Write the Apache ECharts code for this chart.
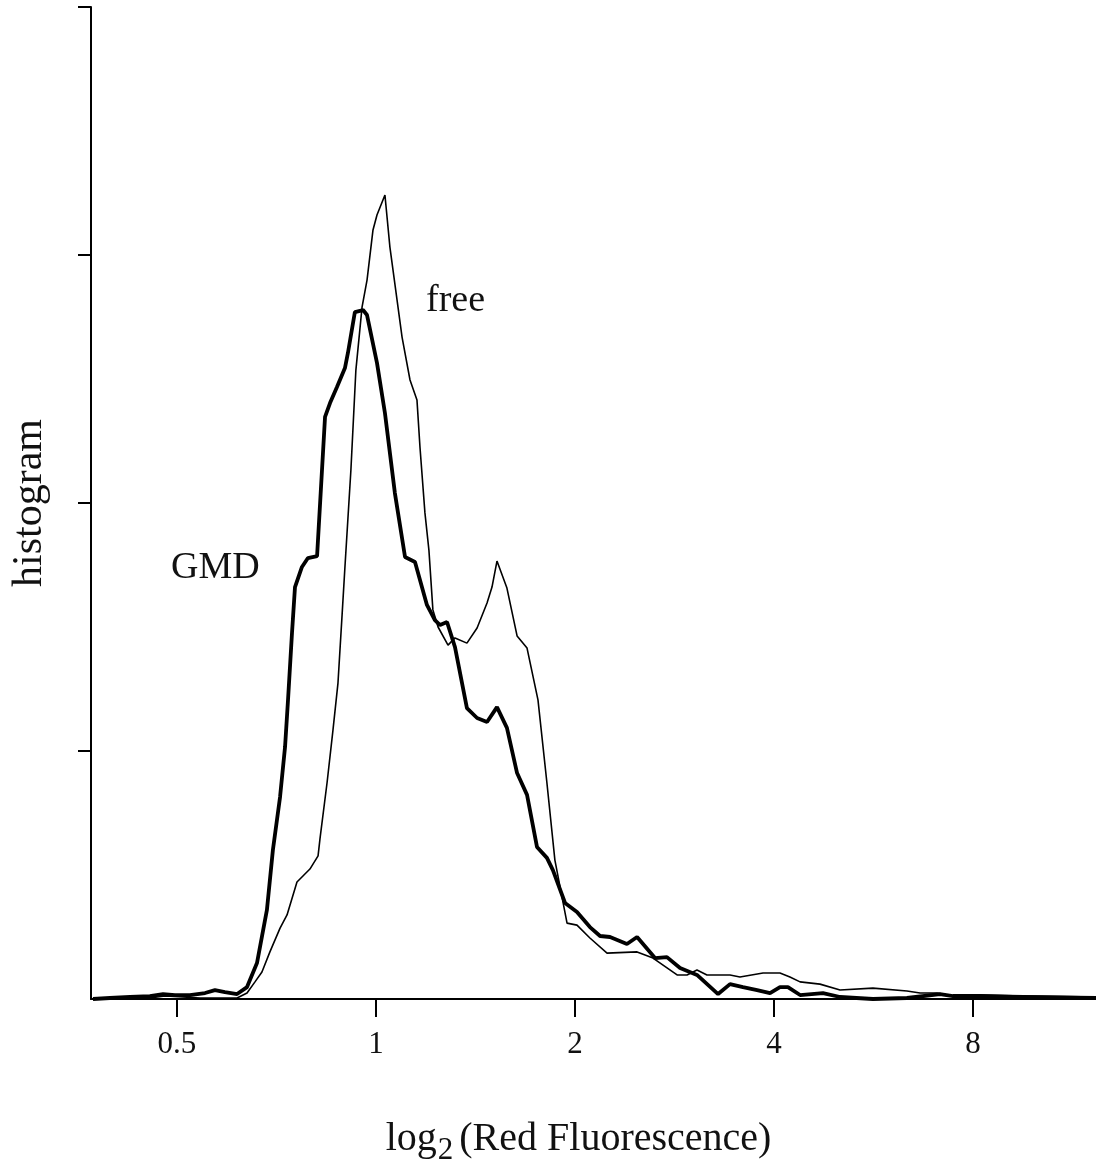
<!DOCTYPE html>
<html>
<head>
<meta charset="utf-8">
<script src="https://cdn.jsdelivr.net/npm/echarts@6/dist/echarts.min.js"></script>
<style>
  html, body { margin: 0; padding: 0; background: #fff; }
  #main { width: 1096px; height: 1165px; }
</style>
</head>
<body>
<div id="main"></div>
<script>
// x values are log2(red fluorescence), y values are histogram heights
var tickVals = [-1, 0, 1, 2, 3];
var tickLabels = ['0.5', '1', '2', '4', '8'];

var gmdX = [-1.422, -1.337, -1.236, -1.136, -1.070, -1.010, -0.935, -0.859, -0.809, -0.759, -0.698,
    -0.648, -0.598, -0.548, -0.518, -0.482, -0.457, -0.442, -0.422, -0.407, -0.372, -0.342, -0.296,
    -0.256, -0.231, -0.196, -0.156, -0.141, -0.106, -0.065, -0.045, 0.005, 0.045, 0.095, 0.146,
    0.196, 0.256, 0.296, 0.322, 0.357, 0.397, 0.457, 0.508, 0.558, 0.608, 0.658, 0.709, 0.759,
    0.809, 0.859, 0.889, 0.950, 1.010, 1.075, 1.126, 1.176, 1.261, 1.312, 1.402, 1.462, 1.528,
    1.613, 1.719, 1.779, 1.844, 1.915, 1.980, 2.030, 2.070, 2.131, 2.246, 2.332, 2.497, 2.668,
    2.834, 2.899, 3.035, 3.201, 3.618];
var gmdY = [0, 0.004, 0.008, 0.012, 0.020, 0.016, 0.016, 0.024, 0.036, 0.028, 0.020,
    0.048, 0.145, 0.359, 0.601, 0.815, 1.016, 1.206, 1.476, 1.661, 1.742, 1.778, 1.786,
    2.347, 2.403, 2.468, 2.544, 2.605, 2.770, 2.778, 2.758, 2.565, 2.363, 2.040, 1.782,
    1.762, 1.589, 1.528, 1.508, 1.520, 1.419, 1.173, 1.133, 1.117, 1.177, 1.093, 0.911, 0.823,
    0.613, 0.569, 0.520, 0.387, 0.351, 0.290, 0.254, 0.250, 0.222, 0.250, 0.165, 0.169, 0.125,
    0.097, 0.020, 0.060, 0.048, 0.036, 0.024, 0.048, 0.048, 0.016, 0.024, 0.008, 0, 0.004,
    0.020, 0.012, 0.012, 0.008, 0.004];

var freeX = [-1.422, -1.136, -1.060, -0.884, -0.698, -0.648, -0.608, -0.573, -0.533, -0.482,
    -0.447, -0.397, -0.332, -0.291, -0.281, -0.246, -0.216, -0.191, -0.171, -0.156, -0.126,
    -0.101, -0.070, -0.045, -0.015, 0.005, 0.035, 0.045, 0.070, 0.131, 0.171, 0.206, 0.221,
    0.246, 0.266, 0.286, 0.312, 0.362, 0.397, 0.457, 0.508, 0.558, 0.583, 0.608, 0.658, 0.709,
    0.759, 0.814, 0.859, 0.899, 0.960, 1.010, 1.075, 1.161, 1.312, 1.392, 1.513, 1.563, 1.613,
    1.663, 1.779, 1.829, 1.945, 2.030, 2.080, 2.131, 2.231, 2.332, 2.497, 2.668, 2.734, 2.819,
    2.899, 3.035, 3.618];
var freeY = [0, 0.004, 0.012, 0.004, 0.004, 0.024, 0.069, 0.109, 0.190, 0.286,
    0.339, 0.472, 0.524, 0.577, 0.649, 0.871, 1.085, 1.274, 1.540, 1.742, 2.133,
    2.536, 2.790, 2.899, 3.101, 3.161, 3.222, 3.242, 3.032, 2.669, 2.496, 2.415, 2.226,
    1.960, 1.810, 1.569, 1.500, 1.427, 1.456, 1.435, 1.496, 1.597, 1.661, 1.766, 1.657, 1.464,
    1.415, 1.206, 0.871, 0.560, 0.306, 0.298, 0.246, 0.185, 0.190, 0.165, 0.097, 0.097, 0.117,
    0.097, 0.097, 0.089, 0.105, 0.105, 0.089, 0.069, 0.060, 0.036, 0.044, 0.032, 0.024, 0.024,
    0.012, 0.016, 0.008];

function pairs(xs, ys) {
    var out = [];
    for (var i = 0; i < xs.length; i++) {
        out.push([xs[i], ys[i]]);
    }
    return out;
}

var serif = '"Liberation Serif", "DejaVu Serif", serif';
var chart = echarts.init(document.getElementById('main'));

var option = {
    animation: false,
    backgroundColor: '#fff',
    grid: { left: 91, right: 0, top: 7, bottom: 166, containLabel: false, outerBoundsMode: 'none' },
    xAxis: {
        type: 'value',
        min: -1.432,
        max: 3.618,
        axisLine: { show: true, onZero: false, lineStyle: { color: '#000', width: 2 } },
        axisTick: { show: true, customValues: tickVals, length: 18, lineStyle: { color: '#000', width: 2 } },
        axisLabel: {
            customValues: tickVals,
            formatter: function (v) {
                var k = tickVals.indexOf(Math.round(v));
                return k < 0 ? '' : tickLabels[k];
            },
            margin: 30,
            color: '#111',
            fontSize: 31,
            fontFamily: serif
        },
        splitLine: { show: false },
        name: '{a|log}{s|2}{a|(Red Fluorescence)}',
        nameLocation: 'middle',
        nameGap: 120,
        nameTextStyle: {
            padding: [0, 30, 0, 0],
            rich: {
                a: { fontSize: 40, fontFamily: serif, color: '#111', verticalAlign: 'top', lineHeight: 42 },
                s: { fontSize: 31, fontFamily: serif, color: '#111', verticalAlign: 'top', padding: [16, 6, 0, 1], lineHeight: 33 }
            }
        }
    },
    yAxis: {
        type: 'value',
        min: 0,
        max: 4,
        interval: 1,
        axisLine: { show: true, onZero: false, lineStyle: { color: '#000', width: 2 } },
        axisTick: { show: true, customValues: [1, 2, 3, 4], length: 13, lineStyle: { color: '#000', width: 2 } },
        axisLabel: { show: false },
        splitLine: { show: false },
        name: 'histogram',
        nameLocation: 'middle',
        nameRotate: 90,
        nameGap: 40,
        nameTextStyle: { fontSize: 42, fontFamily: serif, color: '#111' }
    },
    series: [
        {
            name: 'free',
            type: 'line',
            data: pairs(freeX, freeY),
            showSymbol: false,
            lineStyle: { color: '#000', width: 1.6 },
            z: 2
        },
        {
            name: 'GMD',
            type: 'line',
            data: pairs(gmdX, gmdY),
            showSymbol: false,
            lineStyle: { color: '#000', width: 3.8 },
            z: 3
        }
    ],
    graphic: [
        { type: 'text', left: 426, top: 282, style: { text: 'free', font: '38px ' + serif, fill: '#111' } },
        { type: 'text', left: 171, top: 549, style: { text: 'GMD', font: '38px ' + serif, fill: '#111' } }
    ]
};
chart.setOption(option);
</script>
</body>
</html>
